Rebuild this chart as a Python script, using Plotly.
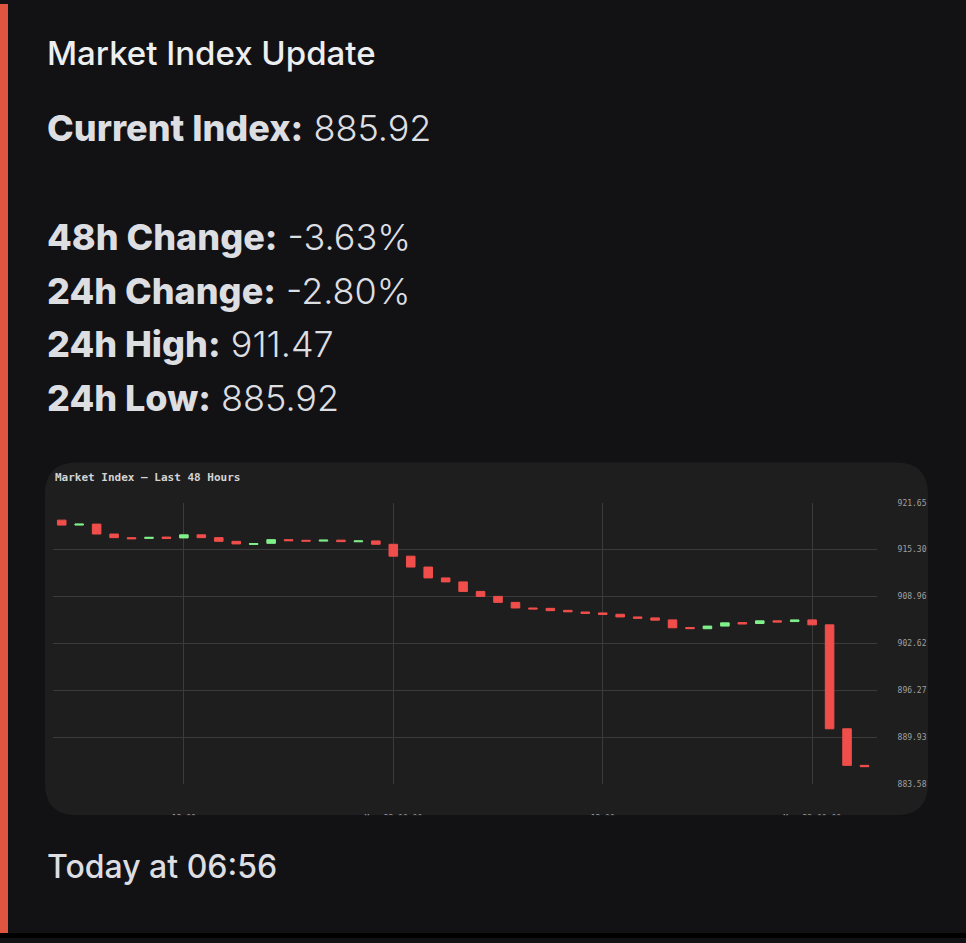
import plotly.graph_objects as go
import pandas as pd

W, H = 966, 943


def px(x):
    return x / W


def py(y):
    return 1 - y / H


# ---------------- data ----------------
times = pd.date_range("2025-03-21 05:00", periods=47, freq="h")

opens = [919.29, 918.62, 918.75, 917.41, 916.92, 916.82, 917.00, 916.88, 917.30, 916.92,
         916.42, 916.00, 916.15, 916.65, 916.56, 916.45, 916.58, 916.36, 916.48, 916.02,
         914.41, 912.94, 911.47, 910.93, 909.64, 908.97, 908.16, 907.40, 907.35, 907.08,
         906.86, 906.73, 906.55, 906.19, 906.06, 905.79, 904.76, 904.59, 904.95, 905.43,
         905.30, 905.66, 905.56, 905.79, 905.12, 891.05, 886.10]
closes = [918.62, 918.75, 917.41, 916.92, 916.76, 916.96, 916.80, 917.30, 916.92, 916.42,
          916.07, 916.12, 916.65, 916.50, 916.45, 916.58, 916.38, 916.48, 916.02, 914.41,
          912.94, 911.47, 910.93, 909.64, 908.97, 908.16, 907.40, 907.27, 907.04, 906.88,
          906.66, 906.52, 906.19, 906.00, 905.75, 904.72, 904.60, 904.95, 905.39, 905.23,
          905.66, 905.50, 905.79, 905.12, 891.05, 886.10, 885.92]
highs = [919.29, 918.75, 918.75, 917.41, 916.92, 916.96, 917.00, 917.30, 917.30, 916.92,
         916.42, 916.12, 916.65, 916.65, 916.56, 916.58, 916.58, 916.48, 916.48, 916.02,
         914.41, 912.94, 911.47, 910.93, 909.64, 908.97, 908.16, 907.40, 907.35, 907.08,
         906.86, 906.73, 906.55, 906.19, 906.06, 905.79, 904.76, 904.95, 905.39, 905.43,
         905.66, 905.66, 905.79, 905.79, 905.12, 891.05, 886.10]
lows = [918.62, 918.62, 917.41, 916.92, 916.76, 916.82, 916.80, 916.88, 916.92, 916.42,
        916.07, 916.00, 916.15, 916.50, 916.45, 916.45, 916.38, 916.36, 916.02, 914.41,
        912.94, 911.47, 910.93, 909.64, 908.97, 908.16, 907.40, 907.27, 907.04, 906.88,
        906.66, 906.52, 906.19, 906.00, 905.75, 904.72, 904.60, 904.59, 904.95, 905.23,
        905.30, 905.50, 905.56, 905.12, 891.05, 886.10, 885.92]

y_tick_vals = [883.58, 889.93, 896.27, 902.62, 908.96, 915.30, 921.65]
y_tick_text = ["883.58", "889.93", "896.27", "902.62", "908.96", "915.30", "921.65"]
x_tick_vals = ["2025-03-21 12:00", "2025-03-22 00:00", "2025-03-22 12:00", "2025-03-23 00:00"]
x_tick_text = ["12:00", "Mar 22 00:00", "12:00", "Mar 23 00:00"]

header = "Market Index Update"
stat_labels = ["Current Index:", "48h Change:", "24h Change:", "24h High:", "24h Low:"]
stat_values = ["885.92", "-3.63%", "-2.80%", "911.47", "885.92"]
chart_title = "Market Index — Last 48 Hours"
footer = "Today at 06:56"

# ---------------- style ----------------
PAGE_BG = "#121215"
CARD_BG = "#1e1e1f"
STRIPE = "#e0553f"
TEXT = "#dcdee2"
RED = "#f04e4b"
GREEN = "#80f08a"
GRID = "#3b3b3b"
MONO = "DejaVu Sans Mono, Liberation Mono, monospace"
SANS = "Inter, Noto Sans, Open Sans, sans-serif"

fig = go.Figure()
fig.add_trace(go.Candlestick(
    x=times, open=opens, high=highs, low=lows, close=closes,
    increasing=dict(fillcolor=GREEN, line=dict(color=GREEN, width=1)),
    decreasing=dict(fillcolor=RED, line=dict(color=RED, width=1)),
    whiskerwidth=0, hoverinfo="skip", showlegend=False,
))

x_lo = times[0] - pd.Timedelta(minutes=30)
x_hi = times[-1] + pd.Timedelta(minutes=43)

fig.update_layout(
    width=W, height=H, autosize=False,
    margin=dict(l=0, r=0, t=0, b=0),
    paper_bgcolor=PAGE_BG, plot_bgcolor="rgba(0,0,0,0)",
    showlegend=False,
    xaxis=dict(
        domain=[px(53), px(877)], range=[x_lo, x_hi], type="date",
        rangeslider=dict(visible=False),
        tickmode="array", tickvals=x_tick_vals, ticktext=x_tick_text,
        showgrid=True, gridcolor=GRID, gridwidth=1, zeroline=False,
        ticks="outside", ticklen=26, tickcolor="rgba(0,0,0,0)",
        tickfont=dict(family=MONO, size=8, color="#9a9a9a"),
        showline=False, fixedrange=True,
    ),
    yaxis=dict(
        domain=[py(787.5), py(503.5)], range=[y_tick_vals[0], y_tick_vals[-1]],
        side="right", tickmode="array", tickvals=y_tick_vals, ticktext=y_tick_text,
        showgrid=True, gridcolor=GRID, gridwidth=1, zeroline=False,
        ticks="outside", ticklen=18, tickcolor="rgba(0,0,0,0)",
        tickfont=dict(family=MONO, size=8, color="#a0a0a0"),
        showline=False, fixedrange=True,
    ),
)


def rounded_path(x0, y0, x1, y1, r):
    X0, X1 = px(x0), px(x1)
    Y0, Y1 = py(y0), py(y1)
    rx, ry = r / W, r / H
    return (f"M {X0 + rx},{Y0} L {X1 - rx},{Y0} Q {X1},{Y0} {X1},{Y0 - ry} "
            f"L {X1},{Y1 + ry} Q {X1},{Y1} {X1 - rx},{Y1} "
            f"L {X0 + rx},{Y1} Q {X0},{Y1} {X0},{Y1 + ry} "
            f"L {X0},{Y0 - ry} Q {X0},{Y0} {X0 + rx},{Y0} Z")


shapes = [
    # chart card
    dict(type="path", xref="paper", yref="paper", layer="below",
         path=rounded_path(45, 463, 928, 819, 32), fillcolor=CARD_BG, line=dict(width=0)),
    # page background below the card (crops the date labels like the original image)
    dict(type="rect", xref="paper", yref="paper", layer="above",
         x0=px(40), x1=px(940), y0=py(938), y1=py(819), fillcolor=PAGE_BG, line=dict(width=0)),
    # left accent stripe
    dict(type="rect", xref="paper", yref="paper", layer="above",
         x0=0, x1=px(8), y0=py(938), y1=1, fillcolor=STRIPE, line=dict(width=0)),
    # black bottom band
    dict(type="rect", xref="paper", yref="paper", layer="above",
         x0=0, x1=1, y0=0, y1=py(938), fillcolor="#000000", line=dict(width=0)),
]
fig.update_layout(shapes=shapes)

ann = []
ann.append(dict(text=header, x=px(45), y=py(49), xref="paper", yref="paper",
                xanchor="left", yanchor="middle", showarrow=False,
                font=dict(family=SANS, size=33, color="#eceef0", weight=500)))
stat_centers = [125.0, 235.5, 289.5, 343.0, 398.0]
for lab, val, cy in zip(stat_labels, stat_values, stat_centers):
    ann.append(dict(text=f"<span style='font-weight:800'>{lab}</span> {val}",
                    x=px(45), y=py(cy), xref="paper", yref="paper",
                    xanchor="left", yanchor="middle", showarrow=False,
                    font=dict(family=SANS, size=36, color=TEXT, weight=300)))
ann.append(dict(text=chart_title, x=px(53), y=py(478), xref="paper", yref="paper",
                xanchor="left", yanchor="middle", showarrow=False,
                font=dict(family=MONO, size=11, color="#d4d4d4", weight=700)))
ann.append(dict(text=footer, x=px(45), y=py(871), xref="paper", yref="paper",
                xanchor="left", yanchor="middle", showarrow=False,
                font=dict(family=SANS, size=32, color=TEXT, weight=500)))
fig.update_layout(annotations=ann)

fig.write_html("out.html", config=dict(displayModeBar=False, staticPlot=True),
               post_script="document.body.style.margin='0';document.body.style.overflow='hidden';")
